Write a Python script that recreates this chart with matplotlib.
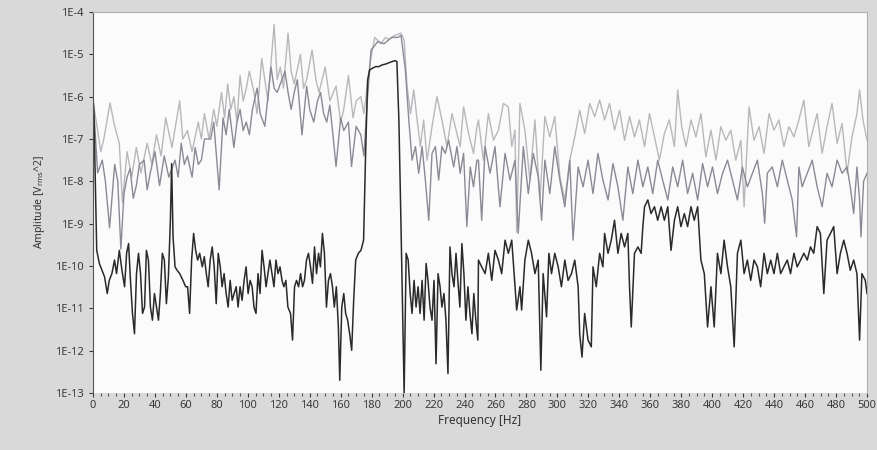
import numpy as np
import matplotlib
matplotlib.use('Agg')
import matplotlib.pyplot as plt
from matplotlib.ticker import MultipleLocator, FixedLocator


# values: frequency [Hz] and log10 of amplitude [Vrms^2]
DARK_FREQ = [0, 0.6, 2.4, 4.1, 5.8, 7.5, 9.2, 10.5, 12.2, 13.9, 15.2, 17.0, 18.7, 20.4, 21.7, 23.0, 24.2, 25.5, 26.8, 28.1,
             29.4, 30.7, 32.0, 33.3, 34.5, 35.8, 37.1, 38.4, 39.7, 41.0, 42.3, 43.5, 44.8, 46.1, 47.4, 48.7, 50.0, 50.8, 51.7, 53.0,
             54.3, 56.0, 58.1, 59.9, 61.1, 62.4, 63.7, 65.0, 66.3, 67.6, 68.9, 70.6, 71.9, 73.2, 74.4, 75.7, 77.0, 78.3, 79.6, 80.9,
             82.2, 83.4, 84.7, 86.0, 87.3, 88.6, 89.9, 91.2, 92.5, 93.7, 95.0, 96.3, 97.6, 98.9, 100.2, 101.5, 102.8, 104.0, 105.3, 106.6,
             107.9, 109.2, 110.5, 111.8, 113.0, 114.3, 115.6, 116.9, 118.2, 119.5, 120.8, 122.1, 123.3, 124.6, 125.9, 127.6, 128.9, 130.2, 131.5, 132.8,
             134.1, 135.4, 136.6, 137.9, 139.2, 140.5, 141.8, 143.1, 144.4, 145.7, 146.9, 148.2, 149.5, 150.8, 152.1, 153.4, 154.7, 155.9, 157.2, 158.5,
             159.4, 160.7, 162.0, 163.2, 164.5, 165.8, 167.1, 168.4, 169.7, 171.4, 173.1, 174.8, 176.1, 177.4, 178.7, 180.4, 182.6, 184.7, 186.8, 189.0,
             191.1, 193.3, 195.0, 196.3, 197.6, 198.9, 200.1, 201.0, 202.3, 203.6, 204.9, 206.1, 207.4, 208.7, 210.0, 211.3, 212.6, 213.9, 215.2, 216.4,
             217.7, 219.0, 220.3, 221.6, 222.9, 224.2, 225.4, 226.7, 228.0, 229.3, 230.6, 231.9, 233.2, 234.5, 235.7, 237.0, 238.3, 239.6, 240.9, 242.2,
             243.5, 244.8, 246.0, 247.3, 248.6, 249.0, 251.1, 253.3, 255.4, 257.6, 259.7, 261.9, 264.0, 266.2, 268.3, 270.5, 272.6, 273.7, 275.8, 276.9,
             279.0, 281.2, 283.3, 285.5, 287.6, 289.3, 290.8, 293.0, 294.5, 296.2, 298.3, 300.5, 302.6, 304.8, 306.9, 309.1, 311.2, 313.4, 314.4, 315.9,
             317.6, 319.8, 321.9, 323.0, 325.1, 327.3, 329.4, 330.5, 332.7, 334.8, 336.9, 339.1, 341.2, 343.4, 345.5, 346.6, 347.7, 349.8, 352.0, 354.1,
             355.2, 356.3, 358.4, 360.5, 362.7, 364.8, 367.0, 369.1, 371.3, 373.4, 375.6, 377.7, 379.8, 382.0, 384.1, 386.3, 388.4, 390.6, 392.7, 394.9,
             397.0, 399.2, 401.3, 403.4, 405.6, 407.7, 409.9, 412.0, 414.2, 416.3, 418.5, 420.6, 422.7, 424.9, 427.0, 429.2, 431.3, 433.5, 435.6, 437.8,
             439.9, 442.1, 444.2, 446.3, 448.5, 450.6, 452.8, 454.9, 457.1, 459.2, 461.4, 463.5, 465.6, 467.8, 469.9, 472.1, 474.2, 476.4, 478.5, 480.7,
             482.8, 485.0, 487.1, 489.2, 491.4, 493.5, 495.2, 496.7, 498.9, 500.0]
DARK_EXP = [-6.0, -6.40, -9.63, -9.94, -10.10, -10.26, -10.65, -10.34, -10.18, -9.86, -10.18, -9.63, -10.10, -10.49, -9.70, -9.47, -10.34, -11.12, -11.60, -10.18,
            -9.70, -10.18, -11.12, -10.97, -9.63, -9.86, -10.97, -11.28, -10.65, -10.97, -11.28, -10.65, -9.70, -9.86, -10.89, -10.26, -8.92, -7.58, -9.31, -10.02,
            -10.10, -10.18, -10.34, -10.49, -10.49, -11.12, -9.86, -9.23, -9.63, -9.86, -9.70, -10.02, -9.78, -10.18, -10.49, -9.86, -9.55, -10.02, -10.89, -9.70,
            -10.02, -10.49, -10.18, -10.65, -10.97, -10.34, -10.81, -10.65, -10.49, -10.97, -10.49, -10.81, -10.34, -10.02, -10.65, -10.34, -10.49, -10.97, -11.12, -10.18,
            -10.65, -9.63, -10.02, -10.49, -10.18, -9.86, -10.18, -10.49, -9.86, -10.18, -10.02, -10.34, -10.49, -10.34, -10.97, -11.12, -11.75, -10.49, -10.34, -10.49,
            -10.18, -10.49, -10.34, -9.86, -9.70, -10.02, -10.41, -9.55, -10.18, -9.70, -10.02, -9.23, -9.70, -10.97, -10.34, -10.18, -10.49, -10.97, -10.49, -11.44,
            -12.70, -10.97, -10.65, -11.12, -11.28, -11.60, -11.99, -10.81, -9.86, -9.70, -9.63, -9.39, -7.34, -5.61, -5.37, -5.33, -5.29, -5.29, -5.25, -5.23,
            -5.20, -5.17, -5.15, -5.17, -6.55, -8.92, -11.28, -13.0, -9.70, -9.86, -10.65, -11.12, -10.34, -10.97, -10.49, -11.12, -10.34, -11.28, -9.94, -10.34,
            -10.97, -11.28, -10.34, -12.31, -10.18, -10.49, -10.97, -10.65, -11.28, -12.54, -9.55, -10.18, -10.49, -9.70, -10.34, -10.97, -9.47, -10.18, -11.28, -10.49,
            -11.12, -11.60, -10.65, -11.28, -11.75, -9.86, -10.02, -10.18, -9.70, -10.34, -9.63, -9.86, -10.18, -9.39, -9.70, -9.39, -10.49, -11.04, -10.49, -11.04,
            -9.86, -9.39, -9.70, -10.18, -9.86, -12.46, -10.18, -11.20, -9.70, -10.18, -9.70, -10.02, -10.49, -9.86, -10.34, -10.18, -9.86, -10.49, -11.60, -12.15,
            -11.12, -11.75, -11.91, -10.02, -10.49, -9.70, -10.02, -9.23, -9.70, -9.39, -8.92, -9.70, -9.23, -9.55, -9.23, -10.49, -11.44, -9.70, -9.55, -9.70,
            -9.07, -8.60, -8.44, -8.76, -8.60, -8.92, -8.60, -8.92, -8.60, -9.63, -8.92, -8.60, -9.07, -8.76, -9.07, -8.60, -8.92, -8.60, -9.86, -10.18,
            -11.44, -10.49, -11.44, -9.70, -10.18, -9.39, -10.02, -10.49, -11.91, -9.70, -9.39, -10.18, -9.86, -10.34, -9.86, -10.02, -10.49, -9.70, -10.18, -9.86,
            -10.18, -9.70, -10.18, -10.02, -9.86, -10.18, -9.70, -10.02, -9.86, -9.70, -9.86, -9.55, -9.70, -9.07, -9.23, -10.65, -9.39, -9.23, -9.07, -10.18,
            -9.70, -9.39, -9.70, -10.10, -9.86, -10.18, -11.75, -10.18, -10.34, -10.65]

LIGHT_FREQ = [0, 3, 5, 7, 11, 14, 17, 19, 22, 25, 28, 31, 35, 38, 41, 44, 47, 51, 56, 58,
              61, 64, 68, 70, 72, 75, 78, 80, 83, 85, 87, 89, 91, 93, 95, 97, 99, 101, 104, 106,
              109, 113, 117, 119, 121, 123, 126, 128, 130, 134, 136, 138, 141.5, 144, 146, 150, 153, 157, 160, 162,
              165, 168, 170, 173, 175, 179, 182, 186, 189, 191, 195, 199, 201.0, 202.9, 205.1, 207.2, 209.4, 211.5, 213.6, 215.8,
              219.0, 222.2, 225.4, 228.7, 231.9, 235.1, 237.2, 239.4, 242.6, 245.8, 248.0, 249.0, 252.2, 255.4, 258.7, 261.9, 265.1, 268.3, 270.5, 272.6,
              273.7, 275.8, 279.0, 282.2, 285.5, 288.7, 291.9, 295.1, 298.3, 301.6, 304.8, 308.0, 311.2, 314.4, 317.6, 320.9, 324.1, 327.3, 330.5, 333.7,
              336.9, 340.2, 343.4, 346.6, 349.8, 353.0, 356.3, 359.5, 362.7, 365.9, 369.1, 372.3, 375.6, 377.7, 380.3, 383.1, 386.3, 389.5, 392.7, 395.9,
              399.2, 402.4, 405.6, 408.8, 412.0, 415.2, 418.5, 420.6, 423.8, 427.0, 430.3, 433.5, 436.7, 439.9, 443.1, 446.3, 449.6, 452.8, 456.0, 459.2,
              462.4, 465.6, 467.8, 471.0, 474.2, 477.4, 480.7, 483.9, 487.1, 490.3, 493.5, 495.2, 497.4, 500.0]
LIGHT_EXP = [-6.1, -6.8, -7.3, -7.0, -6.15, -6.7, -7.1, -8.5, -7.3, -7.9, -7.2, -7.8, -7.1, -7.6, -6.9, -7.4, -6.5, -7.2, -6.1, -7.0,
             -6.8, -7.3, -6.6, -7.0, -6.4, -7.0, -6.3, -6.7, -5.9, -6.5, -5.7, -6.3, -6.0, -6.6, -5.5, -6.1, -5.8, -5.4, -5.9, -6.4,
             -5.1, -6.1, -4.3, -5.6, -5.3, -5.8, -4.5, -5.4, -5.7, -5.0, -5.8, -5.6, -4.9, -5.6, -5.9, -5.3, -6.1, -5.75, -6.6, -6.3,
             -5.5, -6.5, -6.1, -6.0, -6.4, -5.2, -4.6, -4.75, -4.6, -4.65, -4.55, -4.5, -4.66, -5.77, -6.40, -5.84, -6.55, -7.18, -6.55, -7.50,
             -6.71, -6.00, -6.55, -7.18, -6.40, -6.87, -7.18, -6.24, -6.87, -7.34, -6.71, -6.55, -7.50, -6.40, -7.03, -6.79, -6.16, -6.24, -7.18, -6.79,
             -9.20, -6.16, -6.79, -7.97, -6.55, -8.44, -6.47, -6.95, -6.47, -7.89, -8.44, -7.50, -6.95, -6.32, -6.87, -6.16, -6.47, -6.08, -6.55, -6.16,
             -6.79, -6.32, -7.03, -6.47, -6.95, -6.55, -7.18, -6.40, -6.95, -7.50, -6.87, -6.55, -7.18, -5.84, -6.71, -7.18, -6.55, -6.95, -6.40, -7.42,
             -6.79, -7.50, -6.71, -7.03, -6.79, -7.50, -7.03, -8.60, -6.24, -7.03, -6.71, -7.34, -6.40, -6.79, -6.55, -7.18, -6.71, -6.95, -6.55, -6.08,
             -7.18, -6.71, -6.40, -7.34, -6.71, -6.16, -7.10, -6.63, -7.81, -6.95, -6.40, -5.84, -6.55, -7.03]

MID_FREQ = [0, 3, 6, 8, 10.7, 14, 16, 18, 20, 22, 24, 26, 28, 30, 33, 35, 37, 40, 43, 46,
            49, 53, 55, 57, 59, 61, 64, 66, 68, 70, 72, 74, 76, 78, 81.5, 84, 86, 88, 91, 93,
            95, 97, 99, 101, 103, 106, 108, 111, 113, 115, 117, 119, 122, 124, 126, 128, 130, 132, 135, 138,
            140, 142.6, 145, 147, 149, 151, 153, 155, 157, 160, 162, 165, 167, 170, 173, 175, 177, 179.6, 184, 188,
            193, 197, 199, 201.8, 204.0, 206.1, 208.3, 210.4, 212.6, 214.7, 216.9, 219.0, 221.2, 223.3, 225.4, 227.6, 229.7, 233.0, 235.1, 237.2,
            239.4, 241.5, 243.7, 245.8, 248.0, 249.0, 251.1, 253.3, 256.5, 259.7, 262.9, 266.2, 269.4, 272.6, 274.7, 278.0, 281.2, 284.4, 287.6, 289.8,
            291.9, 295.1, 298.3, 301.6, 304.8, 308.0, 310.1, 313.4, 316.6, 319.8, 323.0, 326.2, 329.4, 332.7, 335.9, 339.1, 342.3, 345.5, 348.7, 352.0,
            355.2, 358.4, 361.6, 364.8, 368.0, 371.3, 374.5, 377.7, 380.9, 384.1, 387.4, 390.6, 393.8, 397.0, 400.2, 403.4, 406.7, 409.9, 413.1, 416.3,
            419.5, 422.7, 426.0, 429.2, 432.4, 433.9, 435.6, 438.8, 442.1, 445.3, 448.5, 451.7, 454.5, 456.0, 458.1, 461.4, 464.6, 467.8, 471.0, 474.2,
            477.4, 480.7, 483.9, 487.1, 489.2, 491.4, 493.5, 495.2, 496.1, 497.8, 500.0]
MID_EXP = [-6.0, -7.8, -7.5, -8.0, -9.1, -7.6, -8.0, -9.6, -8.3, -7.9, -7.7, -8.4, -8.1, -7.6, -7.5, -8.2, -7.8, -7.3, -8.1, -7.4,
           -7.9, -7.5, -7.9, -7.1, -7.6, -7.4, -7.9, -7.2, -7.6, -7.5, -7.0, -7.0, -7.0, -6.6, -8.2, -6.5, -6.9, -6.3, -7.2, -6.6,
           -6.3, -6.8, -6.6, -6.9, -6.3, -5.8, -6.4, -6.7, -6.0, -5.3, -5.8, -5.9, -5.6, -5.4, -5.9, -6.3, -5.9, -5.6, -6.9, -5.75,
           -6.3, -6.6, -6.1, -5.9, -6.4, -6.6, -6.2, -6.9, -7.65, -6.5, -6.8, -6.6, -7.65, -6.7, -6.9, -7.4, -6.2, -4.9, -4.7, -4.75,
           -4.6, -4.6, -4.55, -5.37, -6.55, -7.50, -7.18, -7.81, -7.18, -7.97, -8.92, -7.34, -7.18, -7.97, -7.18, -7.34, -7.03, -7.66, -7.18, -7.81,
           -7.34, -9.07, -7.66, -8.13, -7.50, -7.50, -8.92, -7.18, -7.81, -7.18, -8.60, -7.34, -7.97, -7.50, -9.23, -7.18, -8.29, -7.34, -7.89, -8.92,
           -7.50, -8.29, -7.18, -7.97, -8.60, -7.50, -9.39, -7.66, -8.13, -7.50, -8.29, -7.34, -7.97, -8.44, -7.58, -8.13, -8.92, -7.66, -8.29, -7.50,
           -8.13, -7.66, -8.29, -7.50, -7.97, -8.44, -7.66, -8.13, -7.50, -8.29, -7.81, -8.44, -7.58, -8.13, -7.66, -8.29, -7.81, -7.50, -7.97, -8.44,
           -7.66, -8.13, -7.81, -7.50, -8.29, -8.99, -7.81, -7.66, -8.13, -7.50, -7.97, -8.44, -9.31, -7.66, -8.13, -7.81, -7.50, -8.13, -8.60, -7.81,
           -8.13, -7.50, -7.81, -7.66, -8.13, -8.76, -7.66, -8.44, -9.31, -8.00, -7.81]

Y_TICKS = [1e-13, 1e-12, 1e-11, 1e-10, 1e-9, 1e-8, 1e-7, 1e-6, 1e-5, 1e-4]
Y_LABELS = ['1E-13', '1E-12', '1E-11', '1E-10', '1E-9', '1E-8', '1E-7', '1E-6', '1E-5', '1E-4']


def main():
    plt.rcParams['font.family'] = ['Noto Sans', 'DejaVu Sans']

    fig = plt.figure(figsize=(8.77, 4.5), dpi=100, facecolor='#d9d9d9')
    ax = fig.add_axes([93 / 877, 57 / 450, 774 / 877, 381 / 450])
    ax.set_facecolor('#fbfbfb')

    ax.plot(LIGHT_FREQ, 10.0 ** np.array(LIGHT_EXP), color='#b8b8bc', lw=1.0)
    ax.plot(MID_FREQ, 10.0 ** np.array(MID_EXP), color='#8a8a96', lw=1.0)
    ax.plot(DARK_FREQ, 10.0 ** np.array(DARK_EXP), color='#2a2a2a', lw=1.1)

    ax.set_yscale('log')
    ax.set_ylim(1e-13, 1e-4)
    ax.set_xlim(0, 500)
    ax.yaxis.set_major_locator(FixedLocator(Y_TICKS))
    ax.set_yticklabels(Y_LABELS)
    ax.yaxis.set_minor_locator(FixedLocator([]))
    ax.xaxis.set_major_locator(MultipleLocator(20))
    ax.xaxis.set_minor_locator(MultipleLocator(5))

    ax.tick_params(axis='both', which='major', labelsize=8, colors='#3a3a3a', length=3, width=0.8)
    ax.tick_params(axis='x', which='minor', length=2, width=0.8, colors='#555555')
    ax.tick_params(axis='x', which='major', pad=2)

    for side in ['top', 'right']:
        ax.spines[side].set_color('#b0b0b0')
    ax.spines['left'].set_color('#555555')
    ax.spines['bottom'].set_visible(False)

    ax.set_ylabel(r'Amplitude [V$_{\mathrm{rms}}$^2]', fontsize=7.5, color='#333333', labelpad=6)
    ax.set_xlabel('Frequency [Hz]', fontsize=8.5, color='#333333', labelpad=2)

    fig.savefig('out.png', dpi=100, facecolor=fig.get_facecolor())


if __name__ == '__main__':
    main()
